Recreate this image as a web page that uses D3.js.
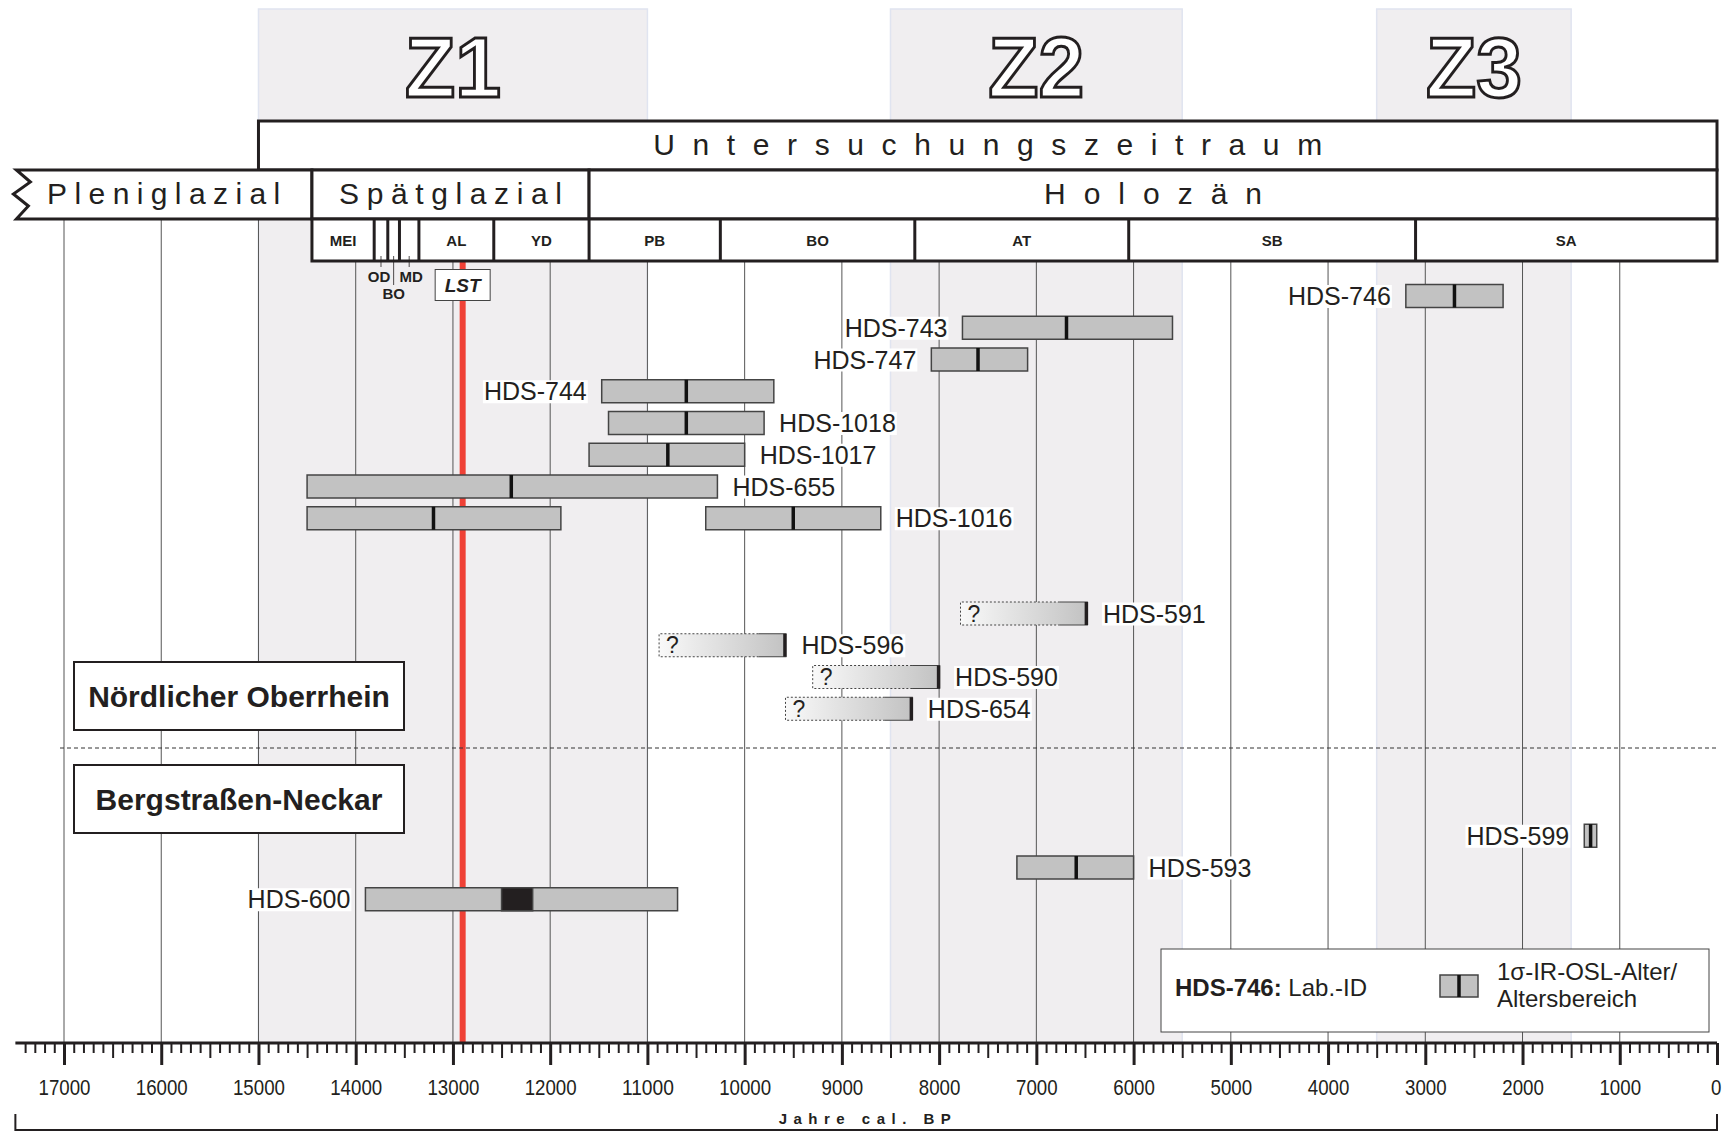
<!DOCTYPE html>
<html>
<head>
<meta charset="utf-8">
<title>IR-OSL-Alter</title>
<script src="https://cdn.jsdelivr.net/npm/d3@7"></script>
<style>
  body { margin: 0; background: #fff; }
  svg { display: block; font-family: "Liberation Sans", Arial, sans-serif; }
</style>
</head>
<body>
<svg id="chart" width="1722" height="1133"></svg>
<script>
// ---- values (years cal. BP) ----
var sampleIds    = ["HDS-746", "HDS-743", "HDS-747", "HDS-744", "HDS-1018", "HDS-1017", "HDS-655", "HDS-1016", "HDS-1016",
                    "HDS-591", "HDS-596", "HDS-590", "HDS-654", "HDS-599", "HDS-593", "HDS-600"];
var ageOld       = [3200, 7760, 8080, 11470, 11400, 11600, 14500, 14500, 10400, 7780, 10880, 9300, 9580, 1365, 7200, 13900];
var ageYoung     = [2200, 5600, 7090, 9700, 9800, 10000, 10280, 11890, 8600, 6470, 9570, 7990, 8270, 1237, 6000, 10690];
var centralOld   = [2700, 6690, 7600, 10600, 10600, 10790, 12400, 13200, 9500, null, null, null, null, 1300, 6590, 12500];
var centralYoung = [2700, 6690, 7600, 10600, 10600, 10790, 12400, 13200, 9500, null, null, null, null, 1300, 6590, 12180];
var openEnded    = [false, false, false, false, false, false, false, false, false, true, true, true, true, false, false, false];

// order of the rows from top to bottom (gaps are empty rows)
var rowSlots = ["HDS-746", "HDS-743", "HDS-747", "HDS-744", "HDS-1018", "HDS-1017", "HDS-655", "HDS-1016", "gap1", "gap2",
                "HDS-591", "HDS-596", "HDS-590", "HDS-654", "gap3", "gap4", "gap5", "HDS-599", "HDS-593", "HDS-600"];
var labelLeft = ["HDS-746", "HDS-743", "HDS-747", "HDS-744", "HDS-599", "HDS-600"];

var studyName = "Untersuchungszeitraum";
var studyBounds = [15000, 0];
var chronoNames = ["Pleniglazial", "Spätglazial", "Holozän"];
var chronoBounds = [17500, 14450, 11600, 0];
var bioNames = ["MEI", "", "", "", "AL", "YD", "PB", "BO", "AT", "SB", "SA"];
var bioBounds = [14450, 13810, 13670, 13550, 13350, 12580, 11600, 10250, 8250, 6050, 3100, 0];
var subNames = ["OD", "BO", "MD"];          // the three thin zones after MEI
var zoneNames = ["Z1", "Z2", "Z3"];
var zoneOld = [15000, 8500, 3500];
var zoneYoung = [11000, 5500, 1500];
var lstAge = 12900;
var regionNames = ["Nördlicher Oberrhein", "Bergstraßen-Neckar"];
var majorTicks = d3.range(17000, -1, -1000);
var axisTitle = "Jahre cal. BP";

// ---- layout ----
var svg = d3.select("#chart");
var ink = "#231f20";
var axisY = 1043;
var barH = 23;

var x = d3.scaleLinear().domain([17000, 0]).range([64, 1717]);
var y = d3.scalePoint().domain(rowSlots).range([296, 296 + 19 * 31.75]);

var defs = svg.append("defs");
var grad = defs.append("linearGradient").attr("id", "fade");
grad.append("stop").attr("offset", "0%").attr("stop-color", "#f9f9f9");
grad.append("stop").attr("offset", "100%").attr("stop-color", "#c2c2c2");

// shaded time windows Z1..Z3
var zones = svg.append("g");
zoneNames.forEach(function (z, i) {
    zones.append("rect")
        .attr("x", x(zoneOld[i])).attr("y", 9)
        .attr("width", x(zoneYoung[i]) - x(zoneOld[i])).attr("height", axisY - 9)
        .attr("fill", "#f0eef0").attr("stroke", "#e0e4f0").attr("stroke-width", 1.5);
    zones.append("text")
        .attr("x", (x(zoneOld[i]) + x(zoneYoung[i])) / 2 - 48).attr("y", 97)
        .attr("font-size", 86).attr("font-weight", "bold")
        .attr("textLength", 96).attr("lengthAdjust", "spacingAndGlyphs")
        .attr("fill", "#fff").attr("stroke", ink).attr("stroke-width", 3)
        .text(z);
});

// vertical grid every 1000 years
svg.append("g").selectAll("line")
    .data(majorTicks.filter(function (d) { return d > 0; }))
    .enter().append("line")
    .attr("x1", function (d) { return x(d); }).attr("x2", function (d) { return x(d); })
    .attr("y1", function (d) { return d > chronoBounds[1] ? 219 : 261; })
    .attr("y2", axisY)
    .attr("stroke", "#555").attr("stroke-width", 1);

// Laacher See Tephra
svg.append("line")
    .attr("x1", x(lstAge)).attr("x2", x(lstAge))
    .attr("y1", 261).attr("y2", axisY)
    .attr("stroke", "#ef4136").attr("stroke-width", 6);

// ---- header ----
var head = svg.append("g").attr("fill", "none").attr("stroke", ink).attr("stroke-width", 3);

head.append("rect")
    .attr("x", x(studyBounds[0])).attr("y", 121)
    .attr("width", x(studyBounds[1]) - x(studyBounds[0])).attr("height", 49)
    .attr("fill", "#fff");

// Pleniglazial has a broken left edge
var xl = x(chronoBounds[0]);
head.append("path")
    .attr("d", "M" + x(chronoBounds[1]) + ",170 L" + (xl + 1) + ",170 L" + (xl + 15) + ",182 L" + (xl - 2) + ",194 L" +
        (xl + 13) + ",206 L" + (xl + 1) + ",219 L" + x(chronoBounds[1]) + ",219 Z")
    .attr("fill", "#fff");
for (var c = 1; c < chronoNames.length; c++) {
    head.append("rect")
        .attr("x", x(chronoBounds[c])).attr("y", 170)
        .attr("width", x(chronoBounds[c + 1]) - x(chronoBounds[c])).attr("height", 49)
        .attr("fill", "#fff");
}

head.append("rect")
    .attr("x", x(bioBounds[0])).attr("y", 219)
    .attr("width", x(0) - x(bioBounds[0])).attr("height", 42)
    .attr("fill", "#fff");
bioBounds.slice(1, -1).forEach(function (b) {
    head.append("line").attr("x1", x(b)).attr("x2", x(b)).attr("y1", 219).attr("y2", 261);
});

function spaced(t, cx, cy, size, ls) {
    svg.append("text")
        .attr("x", cx + ls / 2).attr("y", cy)
        .attr("text-anchor", "middle")
        .attr("font-size", size)
        .attr("letter-spacing", ls)
        .attr("fill", ink)
        .text(t);
}
spaced(studyName, (x(studyBounds[0]) + x(studyBounds[1])) / 2, 155, 30, 17.6);
spaced(chronoNames[0], (xl + x(chronoBounds[1])) / 2, 204, 30, 7.4);
spaced(chronoNames[1], (x(chronoBounds[1]) + x(chronoBounds[2])) / 2, 204, 30, 7.6);
spaced(chronoNames[2], (x(chronoBounds[2]) + x(chronoBounds[3])) / 2, 204, 30, 18);

bioNames.forEach(function (n, i) {
    if (!n) return;
    svg.append("text")
        .attr("x", (x(bioBounds[i]) + x(bioBounds[i + 1])) / 2).attr("y", 246)
        .attr("text-anchor", "middle").attr("font-size", 15).attr("font-weight", "bold")
        .attr("fill", ink).text(n);
});

// OD / BO / MD below the header with small leaders
subNames.forEach(function (n, k) {
    var i = k + 1;
    var cx = (x(bioBounds[i]) + x(bioBounds[i + 1])) / 2;
    var lower = (k === 1);
    svg.append("line")
        .attr("x1", cx).attr("x2", cx).attr("y1", 256).attr("y2", lower ? 285 : 267)
        .attr("stroke", ink).attr("stroke-width", 0.8);
    svg.append("text")
        .attr("x", cx + (k === 0 ? -2 : (k === 2 ? 2 : 0))).attr("y", lower ? 299 : 282)
        .attr("text-anchor", "middle").attr("font-size", 15).attr("font-weight", "bold")
        .attr("fill", ink).text(n);
});

// LST box
var lstBox = svg.append("g");
lstBox.append("rect")
    .attr("x", x(lstAge) - 27.5).attr("y", 269.5).attr("width", 55).attr("height", 31)
    .attr("fill", "#fff").attr("stroke", "#444").attr("stroke-width", 1);
lstBox.append("text")
    .attr("x", x(lstAge)).attr("y", 292)
    .attr("text-anchor", "middle").attr("font-size", 19)
    .attr("font-weight", "bold").attr("font-style", "italic").attr("fill", ink)
    .text("LST");

// ---- age bars ----
var bars = svg.append("g");
var labels = svg.append("g");

sampleIds.forEach(function (id, i) {
    var cy = y(id);
    var x0 = x(ageOld[i]), x1 = x(ageYoung[i]);
    var top = cy - barH / 2;
    var g = bars.append("g");

    if (openEnded[i]) {
        var solid = x0 + (x1 - x0) * 0.78;
        g.append("rect").attr("x", x0).attr("y", top).attr("width", x1 - x0).attr("height", barH)
            .attr("fill", "url(#fade)");
        g.append("path")
            .attr("d", "M" + solid + "," + top + " H" + x0 + " V" + (top + barH) + " H" + solid)
            .attr("fill", "none").attr("stroke", "#444").attr("stroke-width", 1).attr("stroke-dasharray", "2,2");
        g.append("path")
            .attr("d", "M" + solid + "," + top + " H" + x1 + " M" + solid + "," + (top + barH) + " H" + x1)
            .attr("fill", "none").attr("stroke", "#444").attr("stroke-width", 1.2);
        g.append("line").attr("x1", x1 - 1.5).attr("x2", x1 - 1.5).attr("y1", top).attr("y2", top + barH)
            .attr("stroke", ink).attr("stroke-width", 3.5);
        g.append("text").attr("x", x0 + 7).attr("y", cy + 8).attr("font-size", 23).attr("fill", ink).text("?");
    } else {
        g.append("rect").attr("x", x0).attr("y", top).attr("width", x1 - x0).attr("height", barH)
            .attr("fill", "#c2c2c2").attr("stroke", "#444").attr("stroke-width", 1.5);
        if (centralOld[i] === centralYoung[i]) {
            g.append("line").attr("x1", x(centralOld[i])).attr("x2", x(centralOld[i]))
                .attr("y1", top).attr("y2", top + barH)
                .attr("stroke", "#111").attr("stroke-width", 3.5);
        } else {
            g.append("rect").attr("x", x(centralOld[i])).attr("y", top)
                .attr("width", x(centralYoung[i]) - x(centralOld[i])).attr("height", barH)
                .attr("fill", "#231f20").attr("stroke", "#444").attr("stroke-width", 1.5);
        }
    }

    // one label per sample, next to its last bar
    if (sampleIds.indexOf(id, i + 1) !== -1) return;
    var left = labelLeft.indexOf(id) !== -1;
    var t = labels.append("text")
        .attr("x", left ? x0 - 15 : x1 + 15).attr("y", cy + 9)
        .attr("text-anchor", left ? "end" : "start")
        .attr("font-size", 25).attr("fill", ink)
        .text(id);
    var bb = t.node().getBBox();
    labels.insert("rect", function () { return t.node(); })
        .attr("x", bb.x - 1).attr("y", cy - 11).attr("width", bb.width + 2).attr("height", 23)
        .attr("fill", "#fff");
});

// region separator and region boxes
svg.append("line")
    .attr("x1", 60).attr("x2", x(0)).attr("y1", 748).attr("y2", 748)
    .attr("stroke", "#333").attr("stroke-width", 1).attr("stroke-dasharray", "4,3");

regionNames.forEach(function (n, i) {
    var top = i === 0 ? 662 : 765;
    svg.append("rect").attr("x", 74).attr("y", top).attr("width", 330).attr("height", 68)
        .attr("fill", "#fff").attr("stroke", ink).attr("stroke-width", 2);
    svg.append("text").attr("x", 239).attr("y", top + 45)
        .attr("text-anchor", "middle").attr("font-size", 30).attr("font-weight", "bold")
        .attr("fill", ink).text(n);
});

// ---- legend ----
var lg = svg.append("g");
lg.append("rect").attr("x", 1161).attr("y", 949).attr("width", 548).attr("height", 83)
    .attr("fill", "#fff").attr("stroke", "#444").attr("stroke-width", 1);
var lt = lg.append("text").attr("x", 1175).attr("y", 996).attr("font-size", 24).attr("fill", ink);
lt.append("tspan").attr("font-weight", "bold").text("HDS-746:");
lt.append("tspan").text(" Lab.-ID");
lg.append("rect").attr("x", 1440).attr("y", 975).attr("width", 38).attr("height", 22)
    .attr("fill", "#c2c2c2").attr("stroke", "#444").attr("stroke-width", 1.5);
lg.append("line").attr("x1", 1459).attr("x2", 1459).attr("y1", 975).attr("y2", 997)
    .attr("stroke", "#111").attr("stroke-width", 3.5);
lg.append("text").attr("x", 1497).attr("y", 980).attr("font-size", 24).attr("fill", ink).text("1σ-IR-OSL-Alter/");
lg.append("text").attr("x", 1497).attr("y", 1007).attr("font-size", 24).attr("fill", ink).text("Altersbereich");

// ---- time axis ----
svg.append("line")
    .attr("x1", x(17500)).attr("x2", x(0)).attr("y1", axisY).attr("y2", axisY)
    .attr("stroke", ink).attr("stroke-width", 3);

var minor = d3.range(100, 17500, 100).filter(function (d) { return d % 500 !== 0; });
var mid = d3.range(500, 17500, 1000);

function tickAxis(vals, size, width, fmt) {
    var g = svg.append("g")
        .attr("transform", "translate(0," + axisY + ")")
        .call(d3.axisBottom(x).tickValues(vals).tickSize(size).tickPadding(14).tickFormat(fmt));
    g.select(".domain").remove();
    g.selectAll("line").attr("stroke", ink).attr("stroke-width", width);
    return g;
}
tickAxis(minor, 10, 2, function () { return ""; });
tickAxis(mid, 15, 2, function () { return ""; });
var ax = tickAxis(majorTicks, 22, 3, d3.format("d"));
// condensed look of the year labels
ax.selectAll("text")
    .attr("font-family", null)
    .attr("font-size", 22)
    .attr("fill", ink)
    .attr("textLength", function (d) { return String(d).length * 10.4; })
    .attr("lengthAdjust", "spacingAndGlyphs")
    .filter(function (d) { return d === 0; })
    .attr("text-anchor", "end")
    .attr("x", 4);

// bracket with the axis title
svg.append("path")
    .attr("d", "M" + x(17500) + ",1114 V1130 H" + x(0) + " V1114")
    .attr("fill", "none").attr("stroke", ink).attr("stroke-width", 2);
svg.append("text")
    .attr("x", 868).attr("y", 1124)
    .attr("text-anchor", "middle").attr("font-size", 15).attr("font-weight", "bold")
    .attr("letter-spacing", 6.5).attr("fill", ink)
    .text(axisTitle);
</script>
</body>
</html>
